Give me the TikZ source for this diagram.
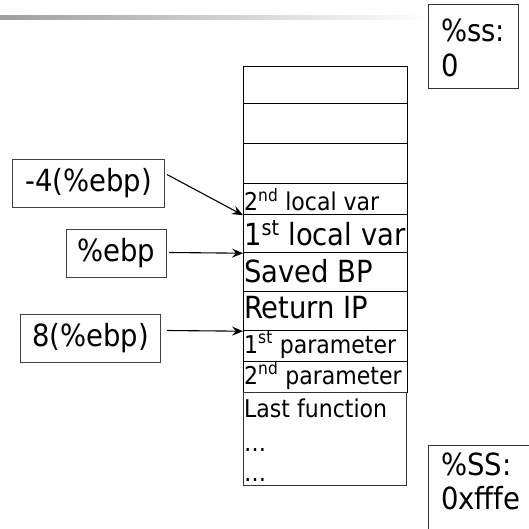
\documentclass[tikz,border=0pt]{standalone}
\usepackage{fontspec}
\setmainfont{DejaVu Sans Condensed}
\usetikzlibrary{arrows.meta,calc}

\tikzset{
  big/.style={font=\fontsize{30.5}{36}\selectfont},
  small/.style={font=\fontsize{24.5}{29}\selectfont},
  cell/.style={draw=black, line width=1.2pt, minimum width=164, minimum height=#1,
               inner sep=0pt, anchor=north west},
  txt/.style={anchor=base west, inner sep=0pt},
  ptrbox/.style={draw=black!75, line width=1pt, inner sep=0pt, anchor=north west},
  ptr/.style={-{Stealth[length=11pt,width=9pt,inset=4pt]}, line width=1.1pt, black},
  segbox/.style={draw=black!80, line width=1pt, anchor=north west, inner sep=0pt}
}

\begin{document}
\begin{tikzpicture}[x=1pt,y=-1pt]
\useasboundingbox (0,0) rectangle (529,529);

% title rule, fading out to the right
\shade[left color=black!38, right color=white] (0,16) rectangle (430,20);

% stack cells, top to bottom
\node[cell=37] (r1) at (243,66) {};
\node[cell=40] (r2) at (243,103) {};
\node[cell=40] (r3) at (243,143) {};
\node[cell=31] (r4) at (243,183) {};
\node[cell=38] (r5) at (243,214) {};
\node[cell=39] (r6) at (243,252) {};
\node[cell=39] (r7) at (243,291) {};
\node[cell=31] (r8) at (243,330) {};
\node[cell=31] (r9) at (243,361) {};
\node[draw=black!80, line width=1pt, minimum width=163, minimum height=93,
      inner sep=0pt, anchor=north west] (r10) at (243,392) {};

% cell contents
\node[txt,small] (t4) at (244,211) {2\textsuperscript{nd} local var};
\node[txt,big]   (t5) at (244,245) {1\textsuperscript{st} local var};
\node[txt,big]   (t6) at (244,282) {Saved BP};
\node[txt,big]   (t7) at (244,318) {Return IP};
\node[txt,small] (t8) at (244,353) {1\textsuperscript{st} parameter};
\node[txt,small] (t9) at (244,384) {2\textsuperscript{nd} parameter};
\node[txt,small] (t10a) at (244,417) {Last function};
\node[txt,small] (t10b) at (244,451) {\dots};
\node[txt,small] (t10c) at (244,481) {\dots};

% frame pointer references
\node[ptrbox, big, minimum width=152, minimum height=48] (m4) at (12,159) {-4(\%ebp)};
\node[ptrbox, big, minimum width=100, minimum height=48] (bp) at (66,229) {\%ebp};
\node[ptrbox, big, minimum width=140, minimum height=48] (p8) at (20,314) {8(\%ebp)};

\draw[ptr] ([shift={(2,-9)}]m4.east) -- (r4.south west);
\draw[ptr] ([shift={(2,-1)}]bp.east) -- (r5.south west);
\draw[ptr] ([shift={(6,-8)}]p8.east) -- (r7.south west);

% segment register values
\node[segbox, minimum width=90, minimum height=84] (ss0) at (428,4) {};
\node[txt,big] (ss0a) at (441,42) {\%ss:};
\node[txt,big] (ss0b) at (441,77) {0};

\node[segbox, minimum width=110, minimum height=100] (ss1) at (428,445) {};
\node[txt,big] (ss1a) at (441,475) {\%SS:};
\node[txt,big] (ss1b) at (441,509) {0xfffe};
\end{tikzpicture}
\end{document}
